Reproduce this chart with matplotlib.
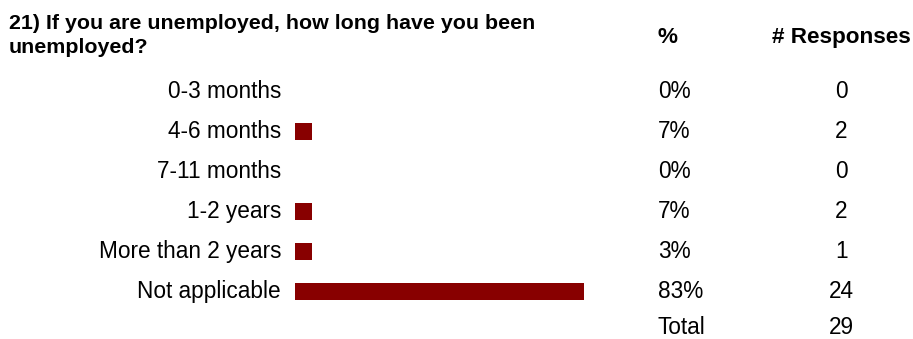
import matplotlib
matplotlib.use("Agg")
import matplotlib.pyplot as plt

plt.rcParams['font.family'] = ['Liberation Sans', 'DejaVu Sans']

title_lines = ["21) If you are unemployed, how long have you been", "unemployed?"]
categories = ["0-3 months", "4-6 months", "7-11 months", "1-2 years",
              "More than 2 years", "Not applicable"]
percents = [0, 7, 0, 7, 3, 83]
responses = [0, 2, 0, 2, 1, 24]
total = 29

bar_color = "#880000"
min_bar = 4.88   # small answers get a fixed stub, in percent units
fs = 16.3
fs_head = 16.2
fs_title = 15.4
txt_off = 0.17   # baseline below row centre

fig = plt.figure(figsize=(9.13, 3.39), dpi=100)
ax = fig.add_axes([0, 0, 1, 1])
# x in percent units, y in row units
ax.set_xlim(-84.7, 177.5)
ax.set_ylim(6.193, -2.276)
ax.axis("off")

rows = list(range(len(categories)))
widths = [p if p >= 10 else (min_bar if p > 0 else 0) for p in percents]
ax.barh(rows, widths, height=0.425, left=0, color=bar_color)

for i, (cat, p, r) in enumerate(zip(categories, percents, responses)):
    ax.text(-4.0, i + txt_off, cat, ha="right", va="baseline", fontsize=fs)
    ax.text(104.2, i + txt_off, f"{p}%", ha="left", va="baseline", fontsize=fs)
    ax.text(157.0, i + txt_off, str(r), ha="center", va="baseline", fontsize=fs)

n = len(categories)
ax.text(104.2, n + txt_off - 0.1, "Total", ha="left", va="baseline", fontsize=fs)
ax.text(157.0, n + txt_off - 0.1, str(total), ha="center", va="baseline", fontsize=fs)

for k, line in enumerate(title_lines):
    fig.text(9 / 913, 1 - (29 + 24 * k) / 339, line, ha="left", va="baseline",
             fontsize=fs_title, fontweight="bold")
ax.text(104.2, -1.2, "%", ha="left", va="baseline", fontsize=fs_head, fontweight="bold")
ax.text(157.0, -1.2, "# Responses", ha="center", va="baseline",
        fontsize=fs_head, fontweight="bold")

fig.savefig("out.png", dpi=100)
